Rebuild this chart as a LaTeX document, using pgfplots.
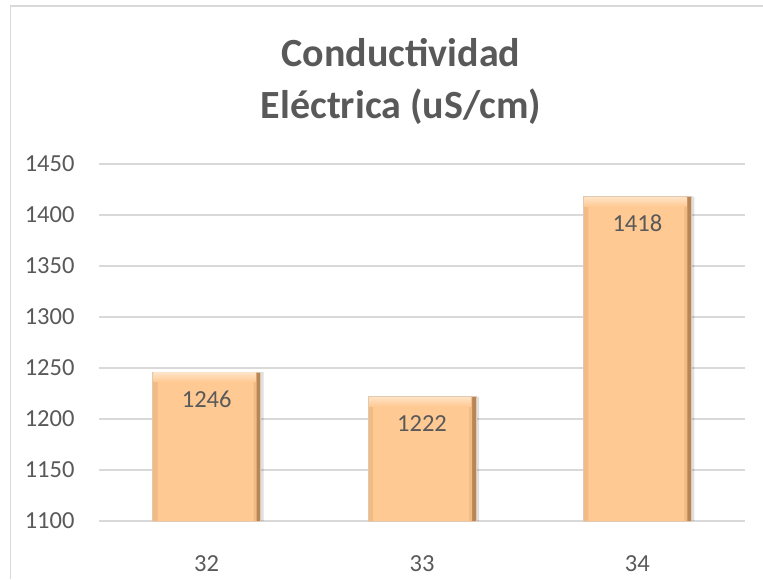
\documentclass[border=0pt]{standalone}
\usepackage{pgfplots}
\pgfplotsset{compat=1.18}
\usepackage{fontspec}
\setmainfont{Carlito}
\definecolor{txt}{HTML}{595959}
\definecolor{gridc}{HTML}{D9D9D9}
\definecolor{peach}{HTML}{FFC993}
\definecolor{bevmid}{HTML}{F2BB86}
\definecolor{bevdark}{HTML}{B88655}
\definecolor{bevlight}{HTML}{FFE2C4}
\begin{document}
\begin{tikzpicture}[x=1pt,y=1pt]
\path[use as bounding box] (0,0) rectangle (763,579);
\draw[gridc, line width=1.5pt] (10.5,0) -- (10.5,573) -- (763,573);
\node[txt, font=\bfseries\fontsize{40}{52}\selectfont, align=center] at (401,498) {Conductividad\\Eléctrica (uS/cm)};
\begin{axis}[
  at={(99pt,58pt)}, anchor=south west, scale only axis,
  width=646pt, height=357pt,
  xmin=-0.5, xmax=2.5, ymin=1100, ymax=1450,
  ytick={1100,1150,1200,1250,1300,1350,1400,1450},
  xtick={0,1,2}, xticklabels={32,33,34},
  /pgf/number format/assume math mode=true,
  /pgf/number format/1000 sep={},
  ymajorgrids, grid style={gridc, line width=1.3pt},
  axis line style={draw=none},
  major tick length=0pt,
  tick label style={txt, font=\fontsize{24.5}{28}\selectfont},
  yticklabel style={xshift=-21pt},
  xticklabel style={yshift=-31pt},
]
\addplot[ybar, bar width=108pt, bar shift=3pt, fill=black, fill opacity=0.12, draw=none, forget plot]
  coordinates {(0,1246) (1,1222) (2,1418)};
\addplot[ybar, bar width=108pt, fill=bevdark, draw=none, forget plot]
  coordinates {(0,1246) (1,1222) (2,1418)};
\addplot[ybar, bar width=104pt, bar shift=-2pt, fill=bevmid, draw=none, forget plot]
  coordinates {(0,1246) (1,1222) (2,1418)};
\addplot[ybar, bar width=96pt, bar shift=-1pt, fill=peach, draw=none, forget plot]
  coordinates {(0,1246) (1,1222) (2,1418)};
\addplot[ybar, bar width=108pt, fill=none, draw=none, forget plot,
  nodes near coords={},
  every node near coord/.style={anchor=north, shape=rectangle, minimum width=102pt,
    minimum height=9pt, inner sep=0pt, top color=bevlight, bottom color=peach, yshift=-0.5pt, xshift=-2pt},
] coordinates {(0,1246) (1,1222) (2,1418)};
\addplot[ybar, bar width=108pt, fill=none, draw=bevdark!45, line width=0.8pt,
  nodes near coords, point meta=explicit symbolic,
  every node near coord/.append style={txt, font=\fontsize{24.5}{28}\selectfont, anchor=center, yshift=-27pt},
] coordinates {(0,1246)[1246] (1,1222)[1222] (2,1418)[1418]};
\end{axis}
\end{tikzpicture}
\end{document}
